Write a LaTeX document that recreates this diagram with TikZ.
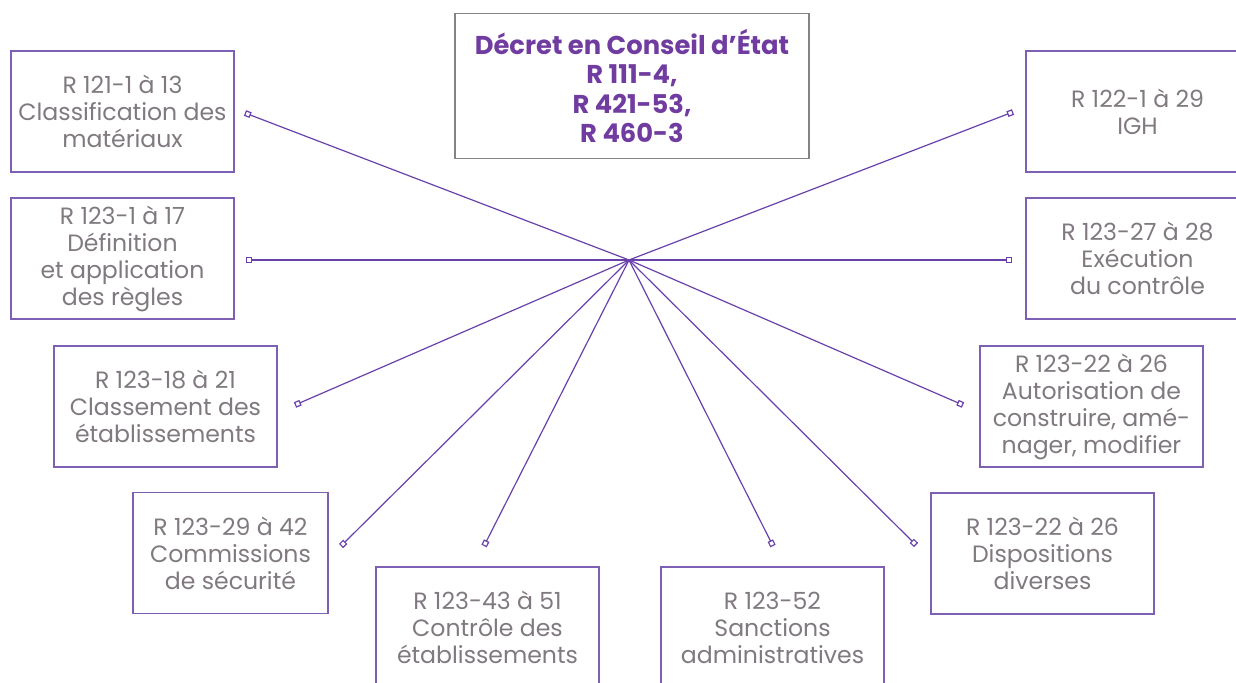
\documentclass[tikz,border=0pt]{standalone}
\usepackage{fontspec}
\setmainfont{Poppins}
\usetikzlibrary{positioning}
\usetikzlibrary{arrows.meta}
\definecolor{cadreviolet}{RGB}{125,95,180}
\definecolor{titreviolet}{RGB}{112,60,160}
\definecolor{lienviolet}{RGB}{105,65,170}
\definecolor{textegris}{RGB}{128,122,128}
\definecolor{cadregris}{RGB}{135,130,135}

\begin{document}
\begin{tikzpicture}[x=0.5pt,y=-0.5pt,
 boite/.style={draw=cadreviolet,line width=0.75pt,align=center,text=textegris,
   font=\fontsize{11.8}{13.5}\selectfont,inner sep=0pt,
   minimum width=111.5pt,minimum height=60.5pt},
 titre/.style={draw=cadregris,line width=0.75pt,align=center,text=titreviolet,
   font=\bfseries\fontsize{12.9}{14.8}\selectfont,inner sep=0pt,
   minimum width=177pt,minimum height=72.5pt},
 lien/.style={draw=lienviolet,line width=0.6pt,
   -{Square[open,length=3pt,width=3pt]}}]
 \useasboundingbox (0,0) rectangle (1236,683);
 \clip (0,0) rectangle (1236,683);
 % cadre central
 \node[titre] (decret) at (632,86) {Décret en Conseil d’État\\R 111-4,\\R 421-53,\\R 460-3};
 % cadres de gauche
 \node[boite] (materiaux) at (122.5,111.5) {R 121-1 à 13\\Classification des\\matériaux};
 \node[boite] (regles) at (122.5,258.5) {R 123-1 à 17\\Définition\\et application\\des règles};
 \node[boite] (classement) at (165.5,406.5) {R 123-18 à 21\\Classement des\\établissements};
 \node[boite,minimum width=97.5pt] (commissions) at (230.5,553) {R 123-29 à 42\\Commissions\\de sécurité};
 % cadres du bas
 \node[boite] (controle) at (487.5,627.5) {R 123-43 à 51\\Contrôle des\\établissements};
 \node[boite] (sanctions) at (772.5,627.5) {R 123-52\\Sanctions\\administratives};
 % cadres de droite
 \node[boite] (dispositions) at (1042.5,553.5) {R 123-22 à 26\\Dispositions\\diverses};
 \node[boite] (autorisation) at (1091.5,406.5) {R 123-22 à 26\\Autorisation de\\construire, amé-\\nager, modifier};
 \node[boite] (execution) at (1137.5,258.5) {R 123-27 à 28\\Exécution\\du contrôle};
 \node[boite] (igh) at (1137.5,111.5) {R 122-1 à 29\\IGH};
 % points d'attache
 \coordinate (centre) at (629,260);
 \coordinate (pmateriaux) at (245,113);
 \coordinate (pregles) at (246,260);
 \coordinate (pclassement) at (295,405);
 \coordinate (pcommissions) at (341,546);
 \coordinate (pcontrole) at (484,546);
 \coordinate (psanctions) at (773,546);
 \coordinate (pdispositions) at (916,545);
 \coordinate (pautorisation) at (963,405);
 \coordinate (pexecution) at (1012,260);
 \coordinate (pigh) at (1013,112);
 % rayons
 \draw[lien] (centre) -- (pmateriaux);
 \draw[lien] (centre) -- (pregles);
 \draw[lien] (centre) -- (pclassement);
 \draw[lien] (centre) -- (pcommissions);
 \draw[lien] (centre) -- (pcontrole);
 \draw[lien] (centre) -- (psanctions);
 \draw[lien] (centre) -- (pdispositions);
 \draw[lien] (centre) -- (pautorisation);
 \draw[lien] (centre) -- (pexecution);
 \draw[lien] (centre) -- (pigh);
\end{tikzpicture}
\end{document}
